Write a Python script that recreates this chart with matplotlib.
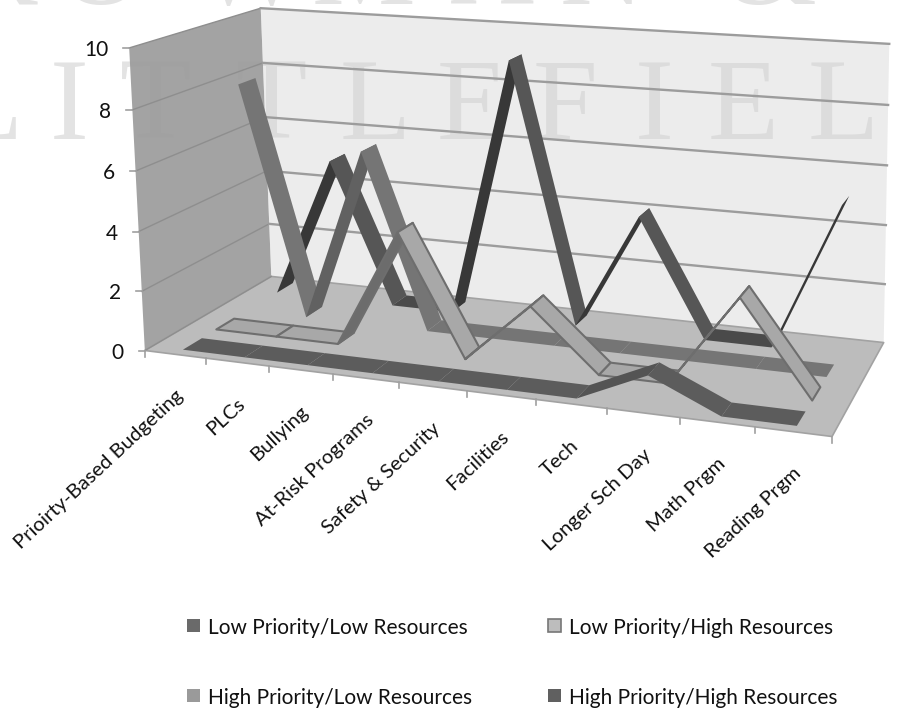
import matplotlib
matplotlib.use("Agg")
import matplotlib.pyplot as plt
from matplotlib.patches import Polygon, Rectangle
import numpy as np

plt.rcParams['font.family'] = ['Lato', 'DejaVu Sans']

categories = ['Prioirty-Based Budgeting', 'PLCs', 'Bullying', 'At-Risk Programs',
              'Safety & Security', 'Facilities', 'Tech', 'Longer Sch Day',
              'Math Prgm', 'Reading Prgm']
low_low = [0, 0, 0, 0, 0, 0, 0, 1, 0, 0]
low_high = [0, 0, 0, 4, 0, 2, 0, 0, 3, 0]
high_low = [8, 0, 6, 0, 0, 0, 0, 0, 0, 0]
high_high = [0, 5, 0, 0, 9, 0, 4, 0, 0, 5]
y_ticks = [0, 2, 4, 6, 8, 10]

# (cat, depth, value) corners of the chart box and where they land on the canvas
box_3d = [(0, 0, 0), (0, 1, 0), (10, 1, 0), (10, 0, 0), (0, 0, 10), (0, 1, 10), (10, 1, 10)]
box_px = [(146, 350), (270, 277), (884, 342), (832, 437), (128, 48), (262, 8), (889, 44)]


def fit_camera(pts3, pts2):
    rows = []
    for (a, b, c), (x, y) in zip(pts3, pts2):
        rows.append([a, b, c, 1, 0, 0, 0, 0, -x*a, -x*b, -x*c, -x])
        rows.append([0, 0, 0, 0, a, b, c, 1, -y*a, -y*b, -y*c, -y])
    return np.linalg.svd(np.array(rows, dtype=float))[2][-1].reshape(3, 4)


cam = fit_camera(box_3d, box_px)


def proj(cat, depth, val):
    p = cam @ np.array([cat, depth, val, 1.0])
    return p[0]/p[2], p[1]/p[2]


fig = plt.figure(figsize=(9.01, 7.09), dpi=100)
ax = fig.add_axes([0, 0, 1, 1])
ax.set_xlim(0, 901)
ax.set_ylim(709, 0)
ax.axis('off')


def face(pts, color, edge='none', lw=0, z=1, alpha=None):
    ax.add_patch(Polygon([proj(*p) for p in pts], closed=True, fc=color, ec=edge, lw=lw,
                         zorder=z, joinstyle='round', alpha=alpha))


# publisher's name running across the sheet, behind the see-through walls
mark_top = [('R', -40), ('O', 58), ('W', 195), ('M', 312), ('A', 450), ('N', 560), ('&', 725)]
mark_low = [('L', -48), ('I', 50), ('T', 120), ('T', 236), ('L', 340), ('E', 437), ('F', 533),
            ('I', 635), ('E', 708), ('L', 808), ('D', 905)]
for letters, base in ((mark_top, 4), (mark_low, 139)):
    for ch, x in letters:
        ax.text(x, base, ch, family='Liberation Serif', fontsize=84, ha='left', va='baseline',
                color='#e3e3e3', zorder=0)

# walls and floor
face([(0, 0, 0), (0, 1, 0), (0, 1, 10), (0, 0, 10)], '#9d9d9d', alpha=0.94)
face([(0, 1, 0), (10, 1, 0), (10, 1, 10), (0, 1, 10)], '#d5d5d5', alpha=0.45)
face([(0, 0, 0), (10, 0, 0), (10, 1, 0), (0, 1, 0)], '#bcbcbc', edge='#a2a2a2', lw=1.2)

for v in y_ticks:
    pts = [proj(0, 0, v), proj(0, 1, v), proj(10, 1, v)]
    ax.plot([pts[0][0], pts[1][0]], [pts[0][1], pts[1][1]], color='#8e8e8e', lw=1.0, zorder=2)
    if v > 0:
        ax.plot([pts[1][0], pts[2][0]], [pts[1][1], pts[2][1]], color='#9c9c9c', lw=1.7, zorder=2)
    ax.plot([pts[0][0] - 6, pts[0][0]], [pts[0][1], pts[0][1]], color='#a0a0a0', lw=1.2, zorder=2)
    ax.text(pts[0][0] - 21, pts[0][1] + 2, str(v), ha='right', va='center', fontsize=15, color='#111111')

for i in range(11):
    x, y = proj(i, 0, 0)
    ax.plot([x, x], [y, y + 6], color='#a0a0a0', lw=1.2, zorder=2)
for i, name in enumerate(categories):
    x, y = proj(i + 0.5, 0, 0)
    ax.text(x + 5, y + 39, name, rotation=43, rotation_mode='anchor', ha='right', va='center',
            fontsize=14.6, color='#111111')

# front to back: low/low, low/high, high/low, high/high
series = [
    (low_low, 0.125, '#5c5c5c', '#545454', '#5c5c5c', 'none'),
    (low_high, 0.375, '#a8a8a8', '#6c6c6c', '#a8a8a8', '#6e6e6e'),
    (high_low, 0.625, '#757575', '#616161', '#757575', 'none'),
    (high_high, 0.875, '#565656', '#383838', '#4a4a4a', 'none'),
]
half = 0.07
for k, (vals, d, down, up, flat, edge) in reversed(list(enumerate(series))):
    for i in range(len(vals) - 1):
        a, b = vals[i], vals[i + 1]
        c = down if b < a else up if b > a else flat
        quad = [(i + 0.5, d - half, a), (i + 1.5, d - half, b), (i + 1.5, d + half, b), (i + 0.5, d + half, a)]
        face(quad, c, edge=edge, lw=1.5 if edge != 'none' else 0, z=4 - k * 0.1)

# legend, column by column
legend = [
    (187, 626, 'Low Priority/Low Resources', '#6a6a6a', 'none'),
    (548, 626, 'Low Priority/High Resources', '#bdbdbd', '#777777'),
    (187, 696, 'High Priority/Low Resources', '#9a9a9a', 'none'),
    (548, 696, 'High Priority/High Resources', '#606060', 'none'),
]
for x, y, label, c, e in legend:
    ax.add_patch(Rectangle((x, y - 7), 13, 13, fc=c, ec=e, lw=1.2))
    ax.text(x + 21, y + 2, label, ha='left', va='center', fontsize=15, color='#111111')

fig.savefig('out.png', dpi=100)
